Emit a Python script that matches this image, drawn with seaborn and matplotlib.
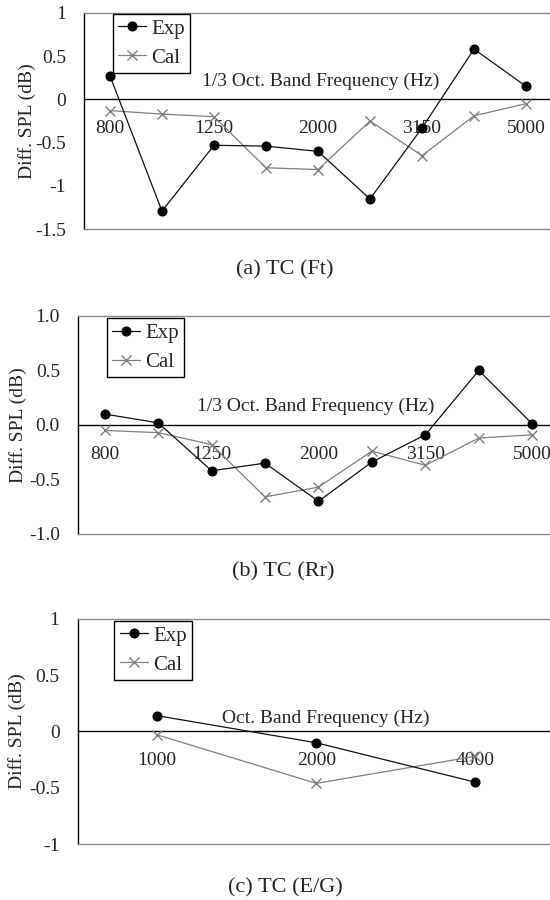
import numpy as np
import pandas as pd
import matplotlib
matplotlib.use("Agg")
import matplotlib.pyplot as plt
import seaborn as sns

# ---- data -------------------------------------------------------------
bands_third = ["800", "1000", "1250", "1600", "2000", "2500", "3150", "4000", "5000"]
ticklabels_third = ["800", "", "1250", "", "2000", "", "3150", "", "5000"]
bands_oct = ["1000", "2000", "4000"]
ticklabels_oct = ["1000", "2000", "4000"]

ft_exp = [0.27, -1.29, -0.53, -0.54, -0.60, -1.15, -0.33, 0.58, 0.15]
ft_cal = [-0.13, -0.17, -0.20, -0.79, -0.81, -0.25, -0.65, -0.19, -0.05]

rr_exp = [0.10, 0.02, -0.42, -0.35, -0.70, -0.34, -0.09, 0.50, 0.01]
rr_cal = [-0.05, -0.07, -0.18, -0.66, -0.57, -0.24, -0.37, -0.12, -0.09]

eg_exp = [0.14, -0.10, -0.45]
eg_cal = [-0.03, -0.46, -0.22]

yticks_a = [1, 0.5, 0, -0.5, -1, -1.5]
yticklabels_a = ["1", "0.5", "0", "-0.5", "-1", "-1.5"]
yticks_b = [1.0, 0.5, 0.0, -0.5, -1.0]
yticklabels_b = ["1.0", "0.5", "0.0", "-0.5", "-1.0"]
yticks_c = [1, 0.5, 0, -0.5, -1]
yticklabels_c = ["1", "0.5", "0", "-0.5", "-1"]

series_names = ["Exp", "Cal"]
captions = ["(a) TC (Ft)", "(b) TC (Rr)", "(c) TC (E/G)"]
xtitles = ["1/3 Oct. Band Frequency (Hz)", "1/3 Oct. Band Frequency (Hz)",
           "Oct. Band Frequency (Hz)"]
ylabel = "Diff. SPL (dB)"

# ---- style ------------------------------------------------------------
sns.set_style("white")
plt.rcParams["font.family"] = ["Liberation Serif", "DejaVu Serif"]
plt.rcParams["font.size"] = 14

FS = 14
EXP_COLOR = "#111111"
CAL_COLOR = "#808080"
BORDER = "#8a8a8a"


def long_frame(bands, exp, cal):
    return pd.DataFrame({
        "band": list(bands) * 2,
        "series": [series_names[0]] * len(bands) + [series_names[1]] * len(bands),
        "value": list(exp) + list(cal),
    })


def draw_panel(ax, bands, exp, cal, yticks, yticklabels, tick_labels, xtitle,
               title_x, title_off, legend_anchor, ylabel_x):
    df = long_frame(bands, exp, cal)
    sns.lineplot(data=df[df.series == "Exp"], x="band", y="value", sort=False,
                 color=EXP_COLOR, lw=0.9, marker="o", markersize=6.5,
                 markeredgecolor="black", markerfacecolor="black",
                 label="Exp", ax=ax, zorder=4)
    sns.lineplot(data=df[df.series == "Cal"], x="band", y="value", sort=False,
                 color=CAL_COLOR, lw=0.9, marker="x", markersize=7,
                 markeredgewidth=1.0, markeredgecolor=CAL_COLOR,
                 label="Cal", ax=ax, zorder=3)

    n = len(bands)
    ax.set_xlim(-0.5, n - 0.5)
    ax.set_ylim(min(yticks), max(yticks))

    # category axis crosses at zero
    ax.spines["bottom"].set_position(("data", 0))
    ax.spines["bottom"].set_color("black")
    ax.spines["bottom"].set_linewidth(1.0)
    ax.spines["left"].set_color("black")
    ax.spines["left"].set_linewidth(1.0)
    ax.spines["top"].set_color(BORDER)
    ax.spines["top"].set_linewidth(1.0)
    ax.spines["right"].set_visible(False)
    ax.plot([0, 1], [0, 0], transform=ax.transAxes, color=BORDER, lw=1.0,
            clip_on=False, zorder=2.6)

    ax.set_xticks(range(n))
    ax.set_xticklabels(tick_labels)
    ax.set_xticks(np.arange(n - 1) + 0.5, minor=True)
    ax.tick_params(axis="x", which="major", length=0, pad=15, labelsize=FS)
    ax.tick_params(axis="x", which="minor", direction="in", length=5,
                   width=1, color="black")

    ax.set_yticks(yticks)
    ax.set_yticklabels(yticklabels)
    ax.tick_params(axis="y", direction="in", length=5, width=1,
                   color="black", pad=13, labelsize=FS)

    ax.set_xlabel("")
    ax.set_ylabel(ylabel, fontsize=FS, va="center")
    ax.yaxis.set_label_coords(ylabel_x, 0.5)

    ax.annotate(xtitle, xy=(title_x, 0), xycoords=("axes fraction", "data"),
                xytext=(0, title_off), textcoords="offset points",
                ha="center", va="center", fontsize=FS, zorder=1)

    leg = ax.legend(loc="upper left", bbox_to_anchor=legend_anchor,
                    borderaxespad=0, frameon=True, fancybox=False,
                    framealpha=1, edgecolor="black", fontsize=15,
                    handlelength=1.35, handletextpad=0.25, borderpad=0.25,
                    labelspacing=0.45)
    leg.get_frame().set_linewidth(1.0)


fig = plt.figure(figsize=(5.5, 9), dpi=100)
ax_a = fig.add_axes([0.1527, 0.7452, 0.851, 0.2407])
ax_b = fig.add_axes([0.1418, 0.4067, 0.8745, 0.2422])
ax_c = fig.add_axes([0.1411, 0.0619, 0.868, 0.2507])

draw_panel(ax_a, bands_third, ft_exp, ft_cal, yticks_a, yticklabels_a,
           ticklabels_third, xtitles[0], 0.505, 13, (0.061, 0.994), -0.122)
draw_panel(ax_b, bands_third, rr_exp, rr_cal, yticks_b, yticklabels_b,
           ticklabels_third, xtitles[1], 0.495, 13.7, (0.060, 0.989), -0.125)
draw_panel(ax_c, bands_oct, eg_exp, eg_cal, yticks_c, yticklabels_c,
           ticklabels_oct, xtitles[2], 0.52, 9.7, (0.077, 0.99), -0.126)

fig.text(0.518, 0.700, captions[0], ha="center", va="center", fontsize=16)
fig.text(0.515, 0.3644, captions[1], ha="center", va="center", fontsize=16)
fig.text(0.518, 0.0133, captions[2], ha="center", va="center", fontsize=16)

fig.savefig("out.png", dpi=100, facecolor="white")
